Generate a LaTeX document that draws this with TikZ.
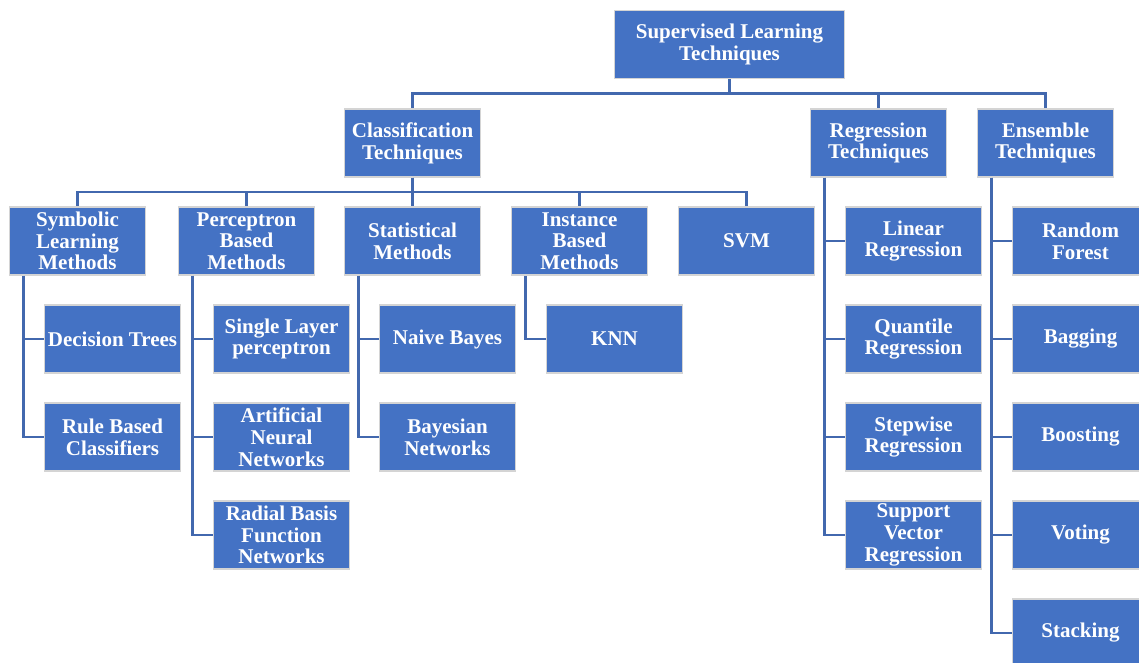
\documentclass[tikz,border=0pt]{standalone}
\usepackage{fontspec}
\setmainfont{Liberation Serif}
\definecolor{boxblue}{HTML}{4472C4}
\definecolor{lineblue}{HTML}{4268AE}
\definecolor{rimgray}{HTML}{D4D4D4}
\begin{document}
\begin{tikzpicture}[x=1pt, y=-1pt,
    techbox/.style={rectangle, fill=boxblue, draw=rimgray, line width=1.5pt,
      minimum width=136pt, minimum height=68pt, inner sep=0pt,
      text=white, align=center, font=\bfseries\fontsize{21}{21.7}\selectfont},
    linkline/.style={draw=lineblue, line width=2.5pt}]
  \useasboundingbox (0,0) rectangle (1139,662);
  \clip (0,0) rectangle (1139,662);

  % top two levels
  \node[techbox, minimum width=230pt] (root) at (729.5,44.5) {Supervised Learning\\Techniques};
  \node[techbox] (cls) at (412.5,143) {Classification\\Techniques};
  \node[techbox] (reg) at (878.5,143) {Regression\\Techniques};
  \node[techbox] (ens) at (1045.5,143) {Ensemble\\Techniques};

  \node[techbox] (sym) at (77.5,241) {Symbolic\\Learning\\Methods};
  \node[techbox] (per) at (246.5,241) {Perceptron\\Based\\Methods};
  \node[techbox] (sta) at (412.5,241) {Statistical\\Methods};
  \node[techbox] (ins) at (579.5,241) {Instance\\Based\\Methods};
  \node[techbox] (svm) at (746.5,241) {SVM};

  % leaves
  \node[techbox] (dt)  at (112.5,339) {Decision Trees};
  \node[techbox] (rbc) at (112.5,437) {Rule Based\\Classifiers};
  \node[techbox] (slp) at (281.5,339) {Single Layer\\perceptron};
  \node[techbox] (ann) at (281.5,437) {Artificial\\Neural\\Networks};
  \node[techbox] (rbf) at (281.5,535) {Radial Basis\\Function\\Networks};
  \node[techbox] (nb)  at (447.5,339) {Naive Bayes};
  \node[techbox] (bn)  at (447.5,437) {Bayesian\\Networks};
  \node[techbox] (knn) at (614.5,339) {KNN};

  \node[techbox] (lin) at (913.5,241) {Linear\\Regression};
  \node[techbox] (qua) at (913.5,339) {Quantile\\Regression};
  \node[techbox] (stw) at (913.5,437) {Stepwise\\Regression};
  \node[techbox] (svr) at (913.5,535) {Support\\Vector\\Regression};

  \node[techbox] (rf)  at (1080.5,241) {Random\\Forest};
  \node[techbox] (bag) at (1080.5,339) {Bagging};
  \node[techbox] (boo) at (1080.5,437) {Boosting};
  \node[techbox] (vot) at (1080.5,535) {Voting};
  \node[techbox] (stk) at (1080.5,633) {Stacking};

  % branches
  \foreach \kid in {cls,reg,ens}
    \draw[linkline] (root.south) -- ++(0,14) -| (\kid.north);
  \foreach \kid in {sym,per,sta,ins,svm}
    \draw[linkline] (cls.south) -- ++(0,14) -| (\kid.north);
  \foreach \kid/\up in {dt/sym, rbc/sym, slp/per, ann/per, rbf/per, nb/sta, bn/sta,
      knn/ins, lin/reg, qua/reg, stw/reg, svr/reg, rf/ens, bag/ens, boo/ens, vot/ens, stk/ens}
    \draw[linkline] (\up.south west) ++(14.5,0) |- (\kid.west);
\end{tikzpicture}
\end{document}
